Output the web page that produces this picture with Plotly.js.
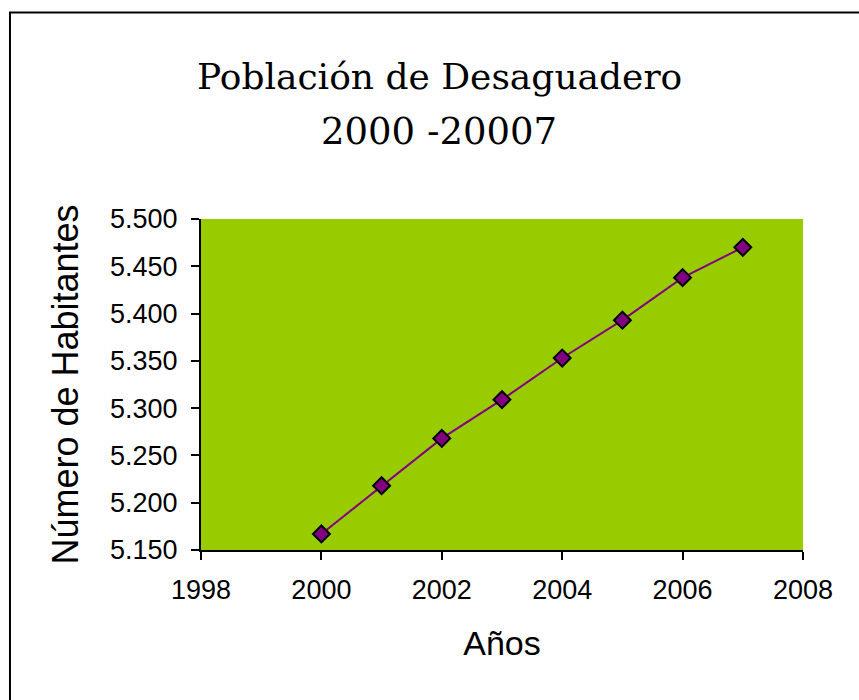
<!DOCTYPE html>
<html>
<head>
<meta charset="utf-8">
<script src="https://cdn.plot.ly/plotly-3.0.1.min.js"></script>
<style>html,body{margin:0;padding:0;background:#fff;}#chart{width:859px;height:700px;}</style>
</head>
<body>
<div id="chart"></div>
<script>
const years = [2000, 2001, 2002, 2003, 2004, 2005, 2006, 2007];
const population = [5167, 5218, 5268, 5309, 5353, 5393, 5438, 5470];
const titleLine1 = "Población de Desaguadero";
const titleLine2 = "2000 -20007";
const xTitle = "Años";
const yTitle = "Número de Habitantes";

const trace = {
  x: years,
  y: population,
  type: "scatter",
  mode: "lines+markers",
  line: {color: "#800080", width: 2},
  marker: {symbol: "diamond", size: 13, color: "#800080", line: {color: "#000000", width: 2}},
  showlegend: false,
  cliponaxis: false
};

const layout = {
  width: 859,
  height: 700,
  margin: {l: 201, r: 56, t: 219, b: 150, pad: 0},
  paper_bgcolor: "#ffffff",
  plot_bgcolor: "#99CC00",
  separators: ",.",
  font: {family: "Liberation Sans, Arial, sans-serif", color: "#000000"},
  xaxis: {
    range: [1998, 2008],
    dtick: 2,
    tick0: 1998,
    showgrid: false,
    zeroline: false,
    showline: true,
    linecolor: "#000000",
    linewidth: 2,
    ticks: "outside",
    ticklen: 8,
    tickwidth: 2,
    tickcolor: "#000000",
    tickfont: {size: 27, family: "Liberation Sans, Arial, sans-serif"},
    ticklabelstandoff: 7,
    title: {text: xTitle, font: {size: 34, family: "Liberation Sans, Arial, sans-serif"}, standoff: 27}
  },
  yaxis: {
    range: [5150, 5500],
    dtick: 50,
    tick0: 5150,
    separatethousands: true,
    showgrid: false,
    zeroline: false,
    showline: true,
    linecolor: "#000000",
    linewidth: 2,
    ticks: "outside",
    ticklen: 8,
    tickwidth: 2,
    tickcolor: "#000000",
    tickfont: {size: 27, family: "Liberation Sans, Arial, sans-serif"},
    ticklabelstandoff: 8,
    title: {text: yTitle, font: {size: 36, family: "Liberation Sans, Arial, sans-serif"}, standoff: 20}
  },
  annotations: [
    {text: titleLine1, xref: "paper", yref: "paper", x: 0.396, y: 1.4308, xanchor: "center", yanchor: "middle", showarrow: false,
     font: {family: "DejaVu Serif, Georgia, serif", size: 36, color: "#000000"}},
    {text: titleLine2, xref: "paper", yref: "paper", x: 0.396, y: 1.2646, xanchor: "center", yanchor: "middle", showarrow: false,
     font: {family: "DejaVu Serif, Georgia, serif", size: 37, color: "#000000"}}
  ],
  shapes: [
    {type: "rect", xref: "paper", yref: "paper", x0: -0.3173, x1: 1.25, y0: -0.6, y1: 1.6239,
     line: {color: "#000000", width: 2}, fillcolor: "rgba(0,0,0,0)", layer: "below"}
  ]
};

Plotly.newPlot("chart", [trace], layout, {displayModeBar: false, staticPlot: true});
</script>
</body>
</html>
